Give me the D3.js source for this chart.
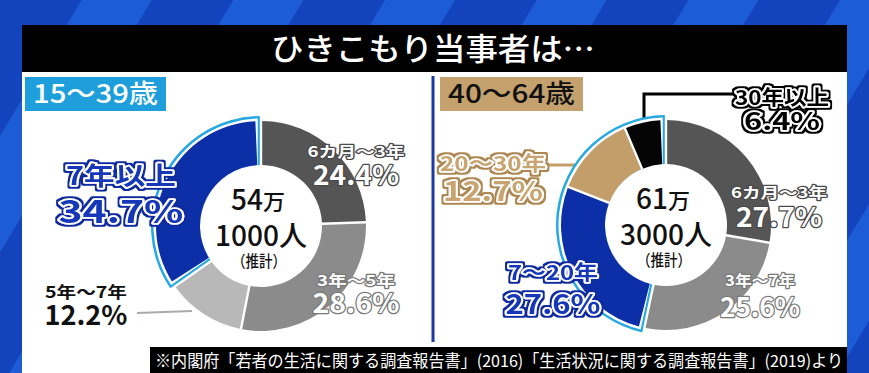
<!DOCTYPE html>
<html>
<head>
<meta charset="utf-8">
<script src="https://cdn.jsdelivr.net/npm/d3@7"></script>
<style>
  html, body { margin: 0; padding: 0; background: #1a55d0; overflow: hidden; }
  svg { display: block; }
  text { font-family: "Noto Sans CJK JP", "Noto Sans", sans-serif; }
</style>
</head>
<body>
<div id="chart"></div>
<script>
const TITLE = "ひきこもり当事者は…";
const SOURCE = "※内閣府「若者の生活に関する調査報告書」(2016)「生活状況に関する調査報告書」(2019)より";

// 15-39
const youngGroup = "15～39歳";
const youngTotal = ["54", "万", "1000人", "（推計）"];
const youngCategories = ["6カ月～3年", "3年～5年", "5年～7年", "7年以上"];
const youngValues = [24.4, 28.6, 12.2, 34.7];
const youngHighlight = ["7年以上"];

// 40-64
const olderGroup = "40～64歳";
const olderTotal = ["61", "万", "3000人", "（推計）"];
const olderCategories = ["6カ月～3年", "3年～7年", "7～20年", "20～30年", "30年以上"];
const olderValues = [27.7, 25.6, 27.6, 12.7, 6.4];
const olderHighlight = ["7～20年", "20～30年", "30年以上"];

const W = 869, H = 373;
const CYAN = "#27a8e2";
const BLUE = "#0c2fa8";
const TAN = "#c49e6a";

// colour / label style per slice
const youngStyle = [
  { color: "#555555", kind: "plain", stroke: "#4a4a4a" },
  { color: "#8b8b8b", kind: "plain", stroke: "#7a7a7a" },
  { color: "#b8b8b8", kind: "dark" },
  { color: BLUE, kind: "outline", fill: "#1238b8", outer: "#0b2a9e" },
];
const olderStyle = [
  { color: "#555555", kind: "plain", stroke: "#4a4a4a" },
  { color: "#8b8b8b", kind: "plain", stroke: "#7a7a7a" },
  { color: BLUE, kind: "outline", fill: "#1238b8", outer: "#0b2a9e" },
  { color: TAN, kind: "outline", fill: "#c8a46f", outer: "#ad8750" },
  { color: "#050505", kind: "outline", fill: "#000", outer: "#000" },
];

// label layout: name centre, value centre, sizes, widths
const youngLabels = [
  { x: 356, y1: 152, y2: 175, fs1: 15, fs2: 27, w1: 97, w2: 86 },
  { x: 356, y1: 281, y2: 303, fs1: 15, fs2: 27, w1: 78, w2: 87 },
  { x: 86, y1: 292, y2: 315, fs1: 16, fs2: 27, w1: 82, w2: 83 },
  { x: 121, y1: 176, y2: 212, fs1: 25, fs2: 31, w1: 110, w2: 125 },
];
const olderLabels = [
  { x: 779, y1: 193, y2: 217, fs1: 15, fs2: 27, w1: 96, w2: 86 },
  { x: 760, y1: 281, y2: 307, fs1: 15, fs2: 27, w1: 70, w2: 80 },
  { x: 553, y1: 273, y2: 304, fs1: 20, fs2: 27, w1: 90, w2: 95 },
  { x: 493, y1: 164, y2: 191, fs1: 20, fs2: 27, w1: 106, w2: 100 },
  { x: 782, y1: 98, y2: 121, fs1: 20, fs2: 24, w1: 94, w2: 76 },
];

const svg = d3.select("#chart").append("svg").attr("width", W).attr("height", H);
const defs = svg.append("defs");

// striped blue backdrop
const pat = defs.append("pattern")
  .attr("id", "stripes")
  .attr("patternUnits", "userSpaceOnUse")
  .attr("width", 130).attr("height", 10)
  .attr("patternTransform", "rotate(31)");
pat.append("rect").attr("width", 130).attr("height", 10).attr("fill", "#1c5cd6");
pat.append("rect").attr("width", 70).attr("height", 10).attr("fill", "#1343bd");
svg.append("rect").attr("width", W).attr("height", H).attr("fill", "url(#stripes)");

// outer outline ring for the coloured captions
function outlineFilter(id, color) {
  const f = defs.append("filter").attr("id", id)
    .attr("x", "-10%").attr("y", "-20%").attr("width", "120%").attr("height", "140%");
  f.append("feMorphology").attr("in", "SourceAlpha").attr("operator", "dilate").attr("radius", 2.2).attr("result", "d");
  f.append("feFlood").attr("flood-color", color).attr("result", "c");
  f.append("feComposite").attr("in", "c").attr("in2", "d").attr("operator", "in").attr("result", "o");
  const m = f.append("feMerge");
  m.append("feMergeNode").attr("in", "o");
  m.append("feMergeNode").attr("in", "SourceGraphic");
  return `url(#${id})`;
}
const filterCache = {};
function filterFor(color) {
  if (!filterCache[color]) {
    filterCache[color] = outlineFilter(`ol${Object.keys(filterCache).length}`, color);
  }
  return filterCache[color];
}

// white panel + title bar
svg.append("rect").attr("x", 22).attr("y", 72).attr("width", 825).attr("height", H - 72).attr("fill", "#fff");
svg.append("rect").attr("x", 22).attr("y", 25).attr("width", 825).attr("height", 47).attr("fill", "#000");
svg.append("text")
  .attr("x", 433).attr("y", 49).attr("dy", "0.36em")
  .attr("text-anchor", "middle")
  .attr("fill", "#fff").attr("font-size", 31).attr("font-weight", 500)
  .attr("textLength", 324).attr("lengthAdjust", "spacingAndGlyphs")
  .text(TITLE);

// divider
svg.append("line").attr("x1", 433).attr("x2", 433).attr("y1", 76).attr("y2", 342)
  .attr("stroke", "#1b3aa8").attr("stroke-width", 3);

// group boxes
function groupBox(x, w, fill, textFill, label) {
  svg.append("rect").attr("x", x).attr("y", 77).attr("width", w).attr("height", 34).attr("fill", fill);
  svg.append("text")
    .attr("x", x + w / 2).attr("y", 94).attr("dy", "0.36em")
    .attr("text-anchor", "middle")
    .attr("fill", textFill).attr("font-size", 26).attr("font-weight", 500)
    .attr("textLength", w - 16).attr("lengthAdjust", "spacingAndGlyphs")
    .text(label);
}
groupBox(25, 141, "#1e9fdc", "#fff", youngGroup);
groupBox(440, 143, "#c5a16e", "#111", olderGroup);

// footer source
svg.append("rect").attr("x", 150).attr("y", 347).attr("width", 697).attr("height", 26).attr("fill", "#000");
svg.append("text")
  .attr("x", 155).attr("y", 361).attr("dy", "0.36em")
  .attr("fill", "#fff").attr("font-size", 16.5)
  .attr("textLength", 688).attr("lengthAdjust", "spacingAndGlyphs")
  .text(SOURCE);

// two-line caption (name + share) as one text element
function caption(g, name, value, L, style) {
  const t = g.append("text")
    .attr("text-anchor", "middle")
    .attr("font-weight", 700)
    .attr("stroke-linejoin", "round");
  if (style.kind === "outline") {
    t.attr("fill", style.fill).attr("stroke", "#fff").attr("stroke-width", 3.6)
      .attr("paint-order", "stroke").attr("filter", filterFor(style.outer));
  } else if (style.kind === "plain") {
    t.attr("fill", "#fff").attr("stroke", style.stroke).attr("stroke-width", 2.5).attr("paint-order", "stroke");
  } else {
    t.attr("fill", "#111");
  }
  [[name, L.y1, L.fs1, L.w1], [value, L.y2, L.fs2, L.w2]].forEach(([str, y, fs, w]) => {
    t.append("tspan")
      .attr("x", L.x).attr("y", y).attr("dy", "0.36em")
      .attr("font-size", fs)
      .attr("textLength", w).attr("lengthAdjust", "spacingAndGlyphs")
      .text(str);
  });
}

function drawDonut(cx, cy, categories, values, styles, highlight, labels, total) {
  const g = svg.append("g");
  const rOut = 105, rIn = 61, padR = 100;
  const padFor = (px) => 2 * Math.asin(px / padR);
  const pie = d3.pie().sort(null).value((d) => d.value);
  const arcs = pie(categories.map((c, i) => ({ cat: c, value: values[i], style: styles[i], hl: highlight.includes(c) })));
  const arc = d3.arc().innerRadius(rIn).padRadius(padR);

  const hl = arcs.filter((a) => a.data.hl);
  const a0 = d3.min(hl, (a) => a.startAngle);
  const a1 = d3.max(hl, (a) => a.endAngle);
  const ring = g.append("g").attr("transform", `translate(${cx},${cy})`);

  ring.append("path")
    .attr("d", arc.outerRadius(rOut + 5)({ startAngle: a0, endAngle: a1, padAngle: padFor(1.2) }))
    .attr("fill", CYAN);
  ring.append("path")
    .attr("d", arc.outerRadius(rOut + 2.5)({ startAngle: a0, endAngle: a1, padAngle: padFor(3.3) }))
    .attr("fill", "#fff");

  const extra = 3.5 / ((rIn + rOut) / 2);
  arc.outerRadius(rOut);
  arcs.forEach((a) => {
    let s = a.startAngle, e = a.endAngle;
    if (a.data.hl && s === a0) s += extra;
    if (a.data.hl && e === a1) e -= extra;
    ring.append("path")
      .attr("d", arc({ startAngle: s, endAngle: e, padAngle: padFor(1.2) }))
      .attr("fill", a.data.style.color);
  });

  // centre total, one text element with three lines
  const tt = g.append("text").attr("text-anchor", "middle").attr("fill", "#111").attr("font-weight", 500);
  const l1 = tt.append("tspan").attr("x", cx - 3).attr("y", cy - 22).attr("dy", "0.36em");
  l1.append("tspan").attr("font-size", 28).text(total[0]);
  l1.append("tspan").attr("font-size", 22).text(total[1]);
  tt.append("tspan").attr("x", cx).attr("y", cy + 10).attr("dy", "0.36em")
    .attr("font-size", 28).attr("textLength", 92).attr("lengthAdjust", "spacingAndGlyphs")
    .text(total[2]);
  tt.append("tspan").attr("x", cx - 2).attr("y", cy + 35).attr("dy", "0.36em")
    .attr("font-size", 16).attr("textLength", 54).attr("lengthAdjust", "spacingAndGlyphs")
    .text(total[3]);

  arcs.forEach((a, i) => {
    caption(g, a.data.cat, `${d3.format(".1f")(a.data.value)}%`, labels[i], a.data.style);
  });
  return g;
}

// leader lines
const lineGen = d3.line();
svg.append("path").attr("d", lineGen([[137, 313], [192, 311]]))
  .attr("fill", "none").attr("stroke", "#aaaaaa").attr("stroke-width", 2);
svg.append("path").attr("d", lineGen([[733, 94], [644, 94], [644, 125]]))
  .attr("fill", "none").attr("stroke", "#000").attr("stroke-width", 3);
svg.append("path").attr("d", lineGen([[549, 165], [580, 165]]))
  .attr("fill", "none").attr("stroke", TAN).attr("stroke-width", 3);

drawDonut(261, 226, youngCategories, youngValues, youngStyle, youngHighlight, youngLabels, youngTotal);
drawDonut(666, 225, olderCategories, olderValues, olderStyle, olderHighlight, olderLabels, olderTotal);
</script>
</body>
</html>
